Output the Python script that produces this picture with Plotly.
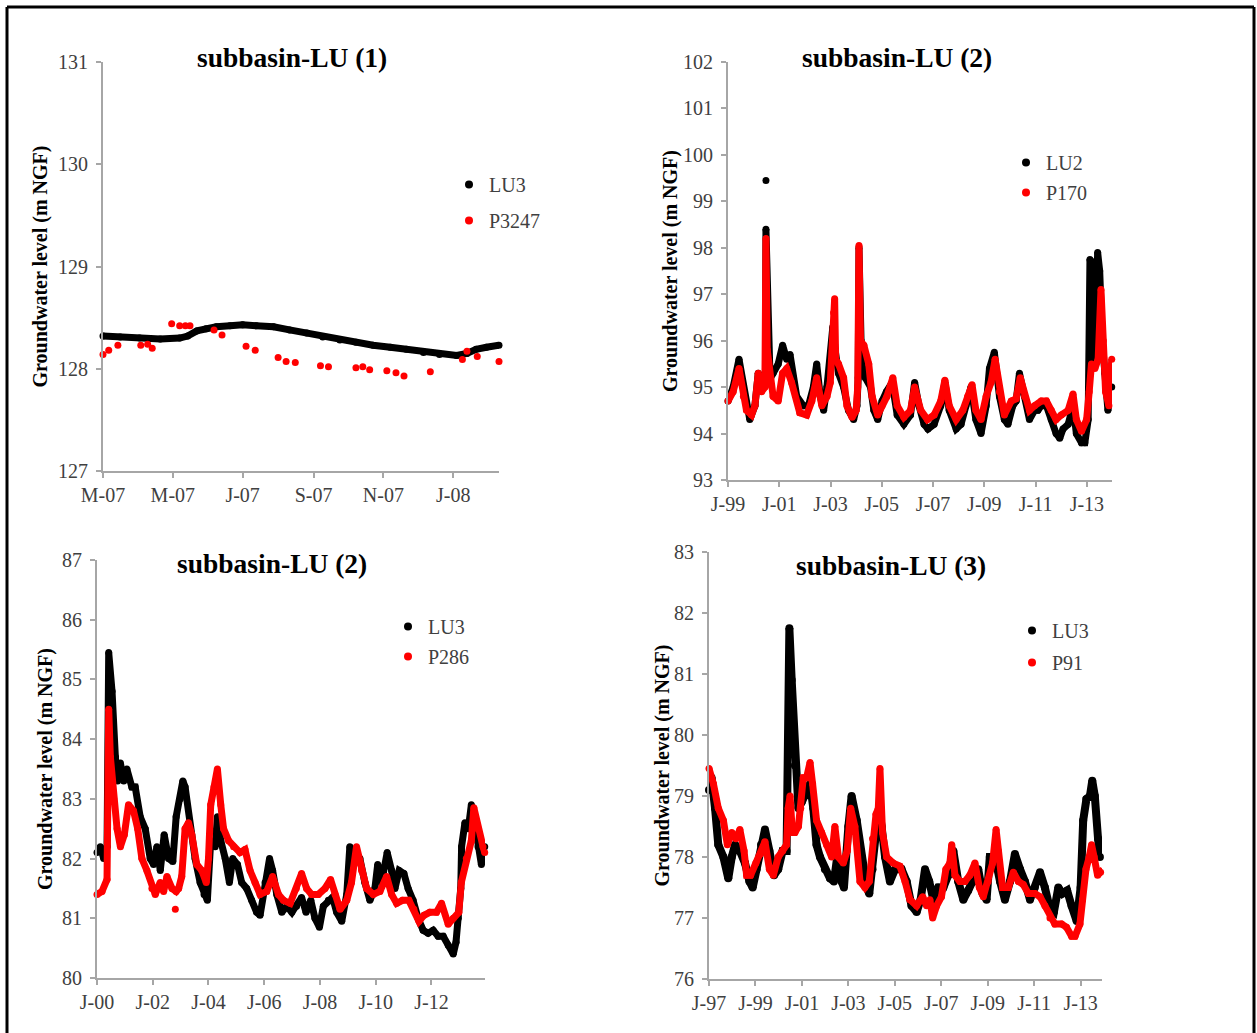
import plotly.graph_objects as go

W, H = 1257, 1033
SERIF = "Liberation Serif, Times New Roman, serif"
AX = "#A6A6A6"
TXT = "#404040"

# ---------------- Panel 1 : subbasin-LU (1) ----------------
p1_lu3_dates = ["2007-03-01", "2007-03-16", "2007-04-02", "2007-04-20", "2007-05-07", "2007-05-14",
                "2007-05-22", "2007-05-30", "2007-06-08", "2007-06-20", "2007-07-01", "2007-07-13",
                "2007-07-28", "2007-08-11", "2007-08-26", "2007-09-09", "2007-09-24", "2007-10-08",
                "2007-10-23", "2007-11-07", "2007-11-21", "2007-12-06", "2007-12-20", "2008-01-04",
                "2008-01-13", "2008-01-21", "2008-01-30", "2008-02-10"]
p1_lu3_vals = [128.32, 128.31, 128.30, 128.29, 128.30, 128.32, 128.37, 128.39, 128.41, 128.42,
               128.43, 128.42, 128.41, 128.38, 128.35, 128.31, 128.28, 128.26, 128.23, 128.21,
               128.19, 128.16, 128.14, 128.13, 128.15, 128.19, 128.21, 128.23]
p1_obs_dates = ["2007-03-01", "2007-03-06", "2007-03-14", "2007-04-03", "2007-04-09", "2007-04-13",
                "2007-04-30", "2007-05-07", "2007-05-12", "2007-05-16", "2007-06-06", "2007-06-13",
                "2007-07-04", "2007-07-12", "2007-08-01", "2007-08-08", "2007-08-16", "2007-09-07",
                "2007-09-14", "2007-10-08", "2007-10-14", "2007-10-20", "2007-11-04", "2007-11-12",
                "2007-11-19", "2007-12-12", "2008-01-09", "2008-01-13", "2008-01-22", "2008-02-10"]
p1_obs_vals = [128.14, 128.18, 128.23, 128.23, 128.24, 128.20, 128.44, 128.42, 128.42, 128.42,
               128.38, 128.33, 128.22, 128.18, 128.11, 128.07, 128.06, 128.03, 128.02, 128.01,
               128.02, 127.99, 127.98, 127.96, 127.93, 127.97, 128.09, 128.17, 128.12, 128.07]
p1_tickvals = ["2007-03-01", "2007-05-01", "2007-07-01", "2007-09-01", "2007-11-01", "2008-01-01"]
p1_ticktext = ["M-07", "M-07", "J-07", "S-07", "N-07", "J-08"]

# ---------------- Panel 2 : subbasin-LU (2), LU2 / P170 ----------------
p2_lu2_years = [1999.00, 1999.20, 1999.43, 1999.60, 1999.85, 2000.05, 2000.18, 2000.37, 2000.46, 2000.48,
                2000.55, 2000.63, 2000.76, 2000.96, 2001.13, 2001.29, 2001.42, 2001.55, 2001.68, 2001.94,
                2002.14, 2002.33, 2002.46, 2002.60, 2002.73, 2002.86, 2002.96, 2003.09, 2003.18, 2003.31,
                2003.51, 2003.70, 2003.90, 2004.03, 2004.08, 2004.11, 2004.19, 2004.36, 2004.56, 2004.69,
                2004.84, 2005.01, 2005.18, 2005.40, 2005.60, 2005.86, 2006.12, 2006.28, 2006.45, 2006.65,
                2006.80, 2007.04, 2007.30, 2007.46, 2007.63, 2007.90, 2008.09, 2008.28, 2008.48, 2008.67,
                2008.87, 2009.07, 2009.20, 2009.39, 2009.59, 2009.78, 2009.92, 2010.11, 2010.24, 2010.37,
                2010.57, 2010.76, 2010.96, 2011.09, 2011.22, 2011.42, 2011.61, 2011.80, 2011.94, 2012.07,
                2012.27, 2012.46, 2012.59, 2012.79, 2012.92, 2013.05, 2013.12, 2013.18, 2013.24, 2013.31,
                2013.42, 2013.50, 2013.60, 2013.70, 2013.82, 2013.97]
p2_lu2_vals = [94.7, 95.0, 95.6, 95.0, 94.3, 94.6, 95.3, 95.0, 95.2, 98.4,
               96.3, 95.4, 95.3, 95.5, 95.9, 95.6, 95.7, 95.2, 94.8, 94.6,
               94.6, 95.0, 95.5, 94.8, 94.5, 95.0, 95.5, 96.3, 95.8, 95.3,
               95.0, 94.5, 94.3, 94.6, 95.2, 98.0, 96.0, 95.2, 95.0, 94.5,
               94.3, 94.7, 94.9, 95.1, 94.4, 94.2, 94.4, 95.1, 94.6, 94.2,
               94.1, 94.2, 94.6, 95.1, 94.5, 94.1, 94.2, 94.6, 95.0, 94.3,
               94.0, 94.6, 95.4, 95.75, 94.8, 94.3, 94.2, 94.6, 94.7, 95.3,
               94.8, 94.3, 94.5, 94.5, 94.6, 94.6, 94.3, 94.0, 93.9, 94.1,
               94.2, 94.6, 94.0, 93.8, 93.8, 94.3, 97.75, 97.7, 96.0, 95.5,
               97.9, 97.5, 96.0, 95.3, 94.5, 95.0]
p2_lu2_isolated_years = [2000.48]
p2_lu2_isolated_vals = [99.45]
p2_p170_years = [1999.00, 1999.20, 1999.43, 1999.60, 1999.72, 1999.92, 2000.05, 2000.18, 2000.31, 2000.44,
                 2000.48, 2000.53, 2000.60, 2000.76, 2000.96, 2001.13, 2001.29, 2001.48, 2001.80, 2002.07,
                 2002.27, 2002.46, 2002.66, 2002.86, 2002.99, 2003.12, 2003.16, 2003.20, 2003.31, 2003.51,
                 2003.64, 2003.84, 2004.00, 2004.06, 2004.11, 2004.17, 2004.30, 2004.49, 2004.62, 2004.84,
                 2005.01, 2005.20, 2005.43, 2005.60, 2005.86, 2006.12, 2006.28, 2006.52, 2006.78, 2007.04,
                 2007.30, 2007.46, 2007.63, 2007.90, 2008.16, 2008.35, 2008.52, 2008.67, 2008.87, 2009.07,
                 2009.26, 2009.42, 2009.59, 2009.78, 2010.05, 2010.24, 2010.40, 2010.57, 2010.76, 2010.96,
                 2011.22, 2011.42, 2011.61, 2011.80, 2012.00, 2012.27, 2012.46, 2012.59, 2012.79, 2012.99,
                 2013.09, 2013.18, 2013.31, 2013.44, 2013.55, 2013.64, 2013.73, 2013.86, 2013.97]
p2_p170_vals = [94.7, 94.9, 95.4, 94.8, 94.5, 94.4, 94.6, 95.3, 94.9, 95.0,
                98.2, 95.8, 95.4, 94.8, 94.7, 95.3, 95.4, 95.1, 94.45, 94.4,
                94.7, 95.2, 94.6, 94.8, 95.1, 96.6, 96.9, 95.6, 95.5, 95.2,
                94.6, 94.35, 94.5, 95.0, 98.05, 96.0, 95.9, 95.5, 94.8, 94.4,
                94.6, 94.8, 95.2, 94.6, 94.35, 94.5, 95.0, 94.5, 94.3, 94.4,
                94.7, 95.15, 94.6, 94.3, 94.5, 94.8, 95.05, 94.5, 94.3, 94.8,
                95.1, 95.6, 94.9, 94.4, 94.7, 94.75, 95.2, 94.8, 94.5, 94.6,
                94.7, 94.7, 94.5, 94.3, 94.4, 94.5, 94.85, 94.3, 94.05, 94.3,
                94.9, 95.5, 95.4, 95.6, 97.1, 96.0, 94.9, 94.6, 95.6]
p2_tickvals = [1999, 2001, 2003, 2005, 2007, 2009, 2011, 2013]
p2_ticktext = ["J-99", "J-01", "J-03", "J-05", "J-07", "J-09", "J-11", "J-13"]

# ---------------- Panel 3 : subbasin-LU (2), LU3 / P286 ----------------
p3_lu3_years = [2000.00, 2000.12, 2000.24, 2000.36, 2000.42, 2000.54, 2000.66, 2000.74, 2000.84, 2000.96,
                2001.07, 2001.25, 2001.37, 2001.55, 2001.73, 2001.91, 2002.03, 2002.15, 2002.27, 2002.41,
                2002.57, 2002.72, 2002.84, 2002.99, 2003.08, 2003.16, 2003.34, 2003.52, 2003.70, 2003.84,
                2003.96, 2004.08, 2004.24, 2004.32, 2004.44, 2004.60, 2004.75, 2004.87, 2005.04, 2005.19,
                2005.37, 2005.55, 2005.73, 2005.85, 2006.03, 2006.19, 2006.30, 2006.45, 2006.63, 2006.81,
                2006.99, 2007.16, 2007.34, 2007.50, 2007.67, 2007.82, 2007.98, 2008.12, 2008.30, 2008.45,
                2008.60, 2008.78, 2008.96, 2009.07, 2009.25, 2009.43, 2009.61, 2009.79, 2009.97, 2010.07,
                2010.21, 2010.41, 2010.57, 2010.69, 2010.84, 2011.01, 2011.16, 2011.34, 2011.52, 2011.70,
                2011.88, 2012.06, 2012.24, 2012.42, 2012.60, 2012.78, 2012.88, 2012.96, 2013.05, 2013.08,
                2013.20, 2013.32, 2013.43, 2013.55, 2013.67, 2013.79, 2013.91]
p3_lu3_vals = [82.1, 82.2, 82.0, 82.2, 85.45, 84.8, 83.7, 83.3, 83.6, 83.3,
               83.5, 83.2, 83.2, 82.7, 82.5, 82.0, 81.9, 82.2, 81.8, 82.4,
               82.0, 81.95, 82.7, 83.0, 83.3, 83.2, 82.5, 82.0, 81.6, 81.4,
               81.3, 82.3, 82.2, 82.7, 82.3, 82.0, 81.6, 82.0, 81.9, 81.6,
               81.5, 81.3, 81.1, 81.05, 81.6, 82.0, 81.8, 81.4, 81.1, 81.2,
               81.1, 81.2, 81.35, 81.1, 81.3, 81.0, 80.85, 81.2, 81.3, 81.35,
               81.1, 80.95, 81.4, 82.2, 82.1, 82.0, 81.6, 81.3, 81.5, 81.9,
               81.6, 82.1, 81.8, 81.5, 81.8, 81.75, 81.5, 81.3, 81.0, 80.8,
               80.75, 80.8, 80.7, 80.7, 80.55, 80.4, 80.6, 81.0, 81.5, 82.2,
               82.6, 82.5, 82.9, 82.6, 82.2, 81.9, 82.2]
p3_p286_years = [2000.00, 2000.18, 2000.36, 2000.42, 2000.48, 2000.60, 2000.72, 2000.84, 2000.98, 2001.13,
                 2001.31, 2001.46, 2001.61, 2001.79, 2001.97, 2002.09, 2002.27, 2002.39, 2002.51, 2002.69,
                 2002.84, 2002.93, 2003.04, 2003.16, 2003.28, 2003.40, 2003.58, 2003.76, 2003.92, 2004.00,
                 2004.08, 2004.20, 2004.32, 2004.44, 2004.54, 2004.72, 2004.90, 2005.13, 2005.31, 2005.49,
                 2005.67, 2005.85, 2006.09, 2006.30, 2006.51, 2006.69, 2006.93, 2007.15, 2007.34, 2007.52,
                 2007.70, 2007.94, 2008.18, 2008.38, 2008.54, 2008.72, 2008.96, 2009.13, 2009.31, 2009.49,
                 2009.67, 2009.91, 2010.15, 2010.39, 2010.57, 2010.75, 2010.96, 2011.19, 2011.37, 2011.55,
                 2011.73, 2011.94, 2012.18, 2012.36, 2012.60, 2012.78, 2012.98, 2013.07, 2013.25, 2013.43,
                 2013.52, 2013.67, 2013.85, 2013.91]
p3_p286_vals = [81.4, 81.45, 81.65, 84.5, 83.7, 83.0, 82.5, 82.2, 82.4, 82.9,
                82.8, 82.5, 82.0, 81.8, 81.5, 81.4, 81.6, 81.45, 81.7, 81.5,
                81.45, 81.5, 81.7, 82.5, 82.6, 82.4, 81.9, 81.8, 81.6, 82.0,
                82.9, 83.2, 83.5, 82.9, 82.5, 82.3, 82.2, 82.1, 82.15, 81.8,
                81.6, 81.4, 81.45, 81.7, 81.4, 81.3, 81.25, 81.5, 81.75, 81.5,
                81.4, 81.4, 81.5, 81.65, 81.4, 81.15, 81.3, 81.6, 82.2, 81.8,
                81.5, 81.4, 81.45, 81.7, 81.4, 81.25, 81.3, 81.3, 81.15, 80.95,
                81.05, 81.1, 81.1, 81.25, 80.9, 81.0, 81.1, 81.6, 82.0, 82.3,
                82.85, 82.5, 82.2, 82.1]
p3_p286_isolated_years = [2002.81]
p3_p286_isolated_vals = [81.15]
p3_tickvals = [2000, 2002, 2004, 2006, 2008, 2010, 2012]
p3_ticktext = ["J-00", "J-02", "J-04", "J-06", "J-08", "J-10", "J-12"]

# ---------------- Panel 4 : subbasin-LU (3), LU3 / P91 ----------------
p4_lu3_years = [1997.00, 1997.11, 1997.26, 1997.40, 1997.62, 1997.83, 1997.98, 1998.12, 1998.33, 1998.55,
                1998.74, 1998.88, 1999.05, 1999.24, 1999.41, 1999.60, 1999.80, 1999.98, 2000.17, 2000.34,
                2000.46, 2000.56, 2000.70, 2000.85, 2000.99, 2001.20, 2001.35, 2001.49, 2001.63, 2001.78,
                2001.99, 2002.21, 2002.38, 2002.52, 2002.71, 2002.81, 2003.00, 2003.14, 2003.36, 2003.57,
                2003.79, 2003.90, 2004.04, 2004.22, 2004.43, 2004.58, 2004.79, 2005.01, 2005.29, 2005.51,
                2005.72, 2005.94, 2006.11, 2006.30, 2006.48, 2006.66, 2006.87, 2007.09, 2007.30, 2007.52,
                2007.73, 2007.95, 2008.16, 2008.38, 2008.59, 2008.78, 2008.95, 2009.09, 2009.31, 2009.53,
                2009.74, 2009.96, 2010.17, 2010.39, 2010.60, 2010.82, 2011.03, 2011.25, 2011.46, 2011.68,
                2011.85, 2012.04, 2012.22, 2012.42, 2012.61, 2012.83, 2013.00, 2013.11, 2013.25, 2013.40,
                2013.50, 2013.61, 2013.75, 2013.83, 2013.94]
p4_lu3_vals = [79.1, 79.3, 78.8, 78.2, 78.0, 77.65, 78.0, 78.2, 78.1, 77.9,
               77.6, 77.5, 77.8, 78.2, 78.45, 78.1, 77.7, 77.8, 78.1, 78.1,
               81.75, 80.9, 79.5, 78.8, 78.9, 79.1, 79.2, 78.8, 78.2, 78.0,
               77.8, 77.65, 77.6, 78.0, 77.6, 77.5, 78.5, 79.0, 78.6, 78.0,
               77.5, 77.4, 77.8, 78.5, 78.5, 78.0, 77.6, 77.8, 77.8, 77.6,
               77.2, 77.1, 77.3, 77.8, 77.6, 77.3, 77.5, 77.5, 77.7, 78.1,
               77.6, 77.3, 77.45, 77.6, 77.8, 77.4, 77.3, 78.0, 78.0, 77.6,
               77.3, 77.6, 78.05, 77.8, 77.6, 77.3, 77.5, 77.75, 77.5, 77.15,
               77.1, 77.5, 77.4, 77.45, 77.2, 76.95, 77.5, 78.6, 78.95, 79.0,
               79.25, 79.0, 78.3, 78.0, 78.25]
p4_p91_years = [1997.00, 1997.19, 1997.40, 1997.62, 1997.79, 1997.98, 1998.16, 1998.33, 1998.51, 1998.62,
                1998.79, 1999.02, 1999.22, 1999.41, 1999.60, 1999.77, 1999.98, 2000.17, 2000.34, 2000.41,
                2000.49, 2000.59, 2000.70, 2000.85, 2000.95, 2001.06, 2001.20, 2001.35, 2001.46, 2001.63,
                2001.85, 2002.06, 2002.28, 2002.42, 2002.57, 2002.78, 2002.95, 2003.10, 2003.28, 2003.50,
                2003.71, 2003.90, 2004.04, 2004.19, 2004.29, 2004.36, 2004.47, 2004.65, 2004.93, 2005.22,
                2005.44, 2005.65, 2005.94, 2006.20, 2006.37, 2006.51, 2006.63, 2006.80, 2007.01, 2007.20,
                2007.37, 2007.45, 2007.59, 2007.80, 2008.02, 2008.23, 2008.45, 2008.64, 2008.81, 2009.02,
                2009.21, 2009.36, 2009.46, 2009.64, 2009.89, 2010.10, 2010.32, 2010.53, 2010.75, 2011.03,
                2011.25, 2011.46, 2011.68, 2011.89, 2012.18, 2012.39, 2012.61, 2012.76, 2012.97, 2013.08,
                2013.23, 2013.37, 2013.47, 2013.58, 2013.73, 2013.86, 2013.97]
p4_p91_vals = [79.45, 79.2, 78.8, 78.6, 78.2, 78.4, 78.3, 78.45, 78.1, 77.7,
               77.7, 77.9, 78.05, 78.25, 77.8, 77.7, 78.0, 78.1, 78.2, 78.8,
               79.0, 78.4, 78.4, 78.5, 78.8, 79.3, 79.3, 79.55, 79.2, 78.6,
               78.4, 78.2, 78.0, 78.5, 78.0, 77.9, 78.1, 78.8, 78.5, 77.6,
               77.5, 77.6, 78.3, 78.7, 78.8, 79.45, 78.4, 78.0, 77.9, 77.85,
               77.6, 77.3, 77.2, 77.35, 77.2, 77.3, 77.0, 77.2, 77.35, 77.8,
               77.9, 78.2, 77.7, 77.6, 77.6, 77.7, 77.9, 77.5, 77.35, 77.6,
               77.9, 78.45, 78.1, 77.5, 77.5, 77.75, 77.6, 77.55, 77.4, 77.4,
               77.35, 77.2, 77.0, 76.9, 76.9, 76.85, 76.7, 76.7, 76.9, 77.3,
               77.8, 78.0, 78.2, 78.0, 77.7, 77.75, 77.8]
p4_tickvals = [1997, 1999, 2001, 2003, 2005, 2007, 2009, 2011, 2013]
p4_ticktext = ["J-97", "J-99", "J-01", "J-03", "J-05", "J-07", "J-09", "J-11", "J-13"]


def px(x):
    return x / W


def py(y):
    return 1 - y / H


fig = go.Figure()

panels = [
    dict(ax="", box=(103, 499, 62, 471), xr=["2007-03-01", "2008-02-10"], yr=[127, 131],
         tv=p1_tickvals, tt=p1_ticktext, xtype="date", title="subbasin-LU (1)", tpos=(292, 57),
         ytx=40, legend="legend", lpos=(449, 165), gap=7),
    dict(ax="2", box=(728, 1112, 62, 480), xr=[1999, 2013.98], yr=[93, 102],
         tv=p2_tickvals, tt=p2_ticktext, xtype="linear", title="subbasin-LU (2)", tpos=(897, 57),
         ytx=670, legend="legend2", lpos=(1006, 143), gap=1),
    dict(ax="3", box=(97, 485, 560, 978), xr=[2000, 2013.92], yr=[80, 87],
         tv=p3_tickvals, tt=p3_ticktext, xtype="linear", title="subbasin-LU (2)", tpos=(272, 563),
         ytx=45, legend="legend3", lpos=(388, 607), gap=1),
    dict(ax="4", box=(709, 1102, 552, 979), xr=[1997, 2013.92], yr=[76, 83],
         tv=p4_tickvals, tt=p4_ticktext, xtype="linear", title="subbasin-LU (3)", tpos=(891, 565),
         ytx=662, legend="legend4", lpos=(1012, 611), gap=3),
]

series = [
    (0, p1_lu3_dates, p1_lu3_vals, "black", "band"),
    (0, p1_obs_dates, p1_obs_vals, "red", "dots"),
    (1, p2_lu2_years, p2_lu2_vals, "black", "band"),
    (1, p2_lu2_isolated_years, p2_lu2_isolated_vals, "black", "dots"),
    (1, p2_p170_years, p2_p170_vals, "red", "band"),
    (2, p3_lu3_years, p3_lu3_vals, "black", "band"),
    (2, p3_p286_years, p3_p286_vals, "red", "band"),
    (2, p3_p286_isolated_years, p3_p286_isolated_vals, "red", "dots"),
    (3, p4_lu3_years, p4_lu3_vals, "black", "band"),
    (3, p4_p91_years, p4_p91_vals, "red", "band"),
]

legend_names = [("LU3", "P3247"), ("LU2", "P170"), ("LU3", "P286"), ("LU3", "P91")]

for pi, xs, ys, col, kind in series:
    p = panels[pi]
    xa, ya = "x" + p["ax"], "y" + p["ax"]
    if kind == "band":
        width = 8 if (pi == 3 and col == "black") else 7
        fig.add_trace(go.Scatter(x=xs, y=ys, mode="lines+markers", xaxis=xa, yaxis=ya,
                                 line=dict(color=col, width=width),
                                 marker=dict(color=col, size=width),
                                 showlegend=False, cliponaxis=False, hoverinfo="skip"))
    else:
        fig.add_trace(go.Scatter(x=xs, y=ys, mode="markers", xaxis=xa, yaxis=ya,
                                 marker=dict(color=col, size=7),
                                 showlegend=False, cliponaxis=False, hoverinfo="skip"))

for pi, p in enumerate(panels):
    xa, ya = "x" + p["ax"], "y" + p["ax"]
    for k, (name, col) in enumerate(zip(legend_names[pi], ["black", "red"])):
        fig.add_trace(go.Scatter(x=[None], y=[None], mode="markers", name=name,
                                 marker=dict(color=col, size=8), xaxis=xa, yaxis=ya,
                                 legend=p["legend"], legendgroup="g%d_%d" % (pi, k),
                                 showlegend=True))

layout = dict(template="none", width=W, height=H, margin=dict(l=0, r=0, t=0, b=0, pad=0),
              paper_bgcolor="white", plot_bgcolor="white",
              font=dict(family=SERIF, size=20, color=TXT))

annotations = []
for pi, p in enumerate(panels):
    x0, x1, y0, y1 = p["box"]
    xname = "xaxis" + p["ax"]
    yname = "yaxis" + p["ax"]
    layout[xname] = dict(domain=[px(x0), px(x1)], range=p["xr"], type=p["xtype"],
                         anchor="y" + p["ax"], tickvals=p["tv"], ticktext=p["tt"],
                         showline=True, linecolor=AX, linewidth=2, ticks="outside",
                         ticklen=5, tickwidth=2, tickcolor=AX, showgrid=False, zeroline=False,
                         automargin=False, tickfont=dict(family=SERIF, size=20, color=TXT))
    layout[yname] = dict(domain=[py(y1), py(y0)], range=p["yr"], dtick=1, tick0=0,
                         anchor="x" + p["ax"], showline=True, linecolor=AX, linewidth=2,
                         ticks="outside", ticklen=5, tickwidth=2, tickcolor=AX,
                         showgrid=False, zeroline=False, ticklabelstandoff=4, automargin=False,
                         tickfont=dict(family=SERIF, size=20, color=TXT))
    lx, ly = p["lpos"]
    layout[p["legend"]] = dict(x=px(lx), y=py(ly), xanchor="left", yanchor="top",
                               bgcolor="rgba(0,0,0,0)", borderwidth=0, traceorder="grouped",
                               font=dict(family=SERIF, size=20, color=TXT),
                               tracegroupgap=p["gap"])
    annotations.append(dict(text="<b>%s</b>" % p["title"], x=px(p["tpos"][0]), y=py(p["tpos"][1]),
                            xref="paper", yref="paper", xanchor="center", yanchor="middle",
                            showarrow=False, font=dict(family=SERIF, size=27.5, color="black")))
    annotations.append(dict(text="<b>Groundwater level (m NGF)</b>", x=px(p["ytx"]),
                            y=py((y0 + y1) / 2), xref="paper", yref="paper", textangle=-90,
                            xanchor="center", yanchor="middle", showarrow=False,
                            font=dict(family=SERIF, size=20, color="black")))
layout["annotations"] = annotations

layout["shapes"] = [
    dict(type="line", xref="paper", yref="paper", x0=px(7), x1=px(7), y0=py(7), y1=0,
         line=dict(color="black", width=3)),
    dict(type="line", xref="paper", yref="paper", x0=px(7), x1=px(1254), y0=py(7), y1=py(7),
         line=dict(color="black", width=3)),
    dict(type="line", xref="paper", yref="paper", x0=px(1254), x1=px(1254), y0=py(7), y1=0,
         line=dict(color="black", width=3)),
]

fig.update_layout(**layout)
fig.write_html("out.html", config={"displayModeBar": False},
               post_script="document.body.style.margin='0';")
